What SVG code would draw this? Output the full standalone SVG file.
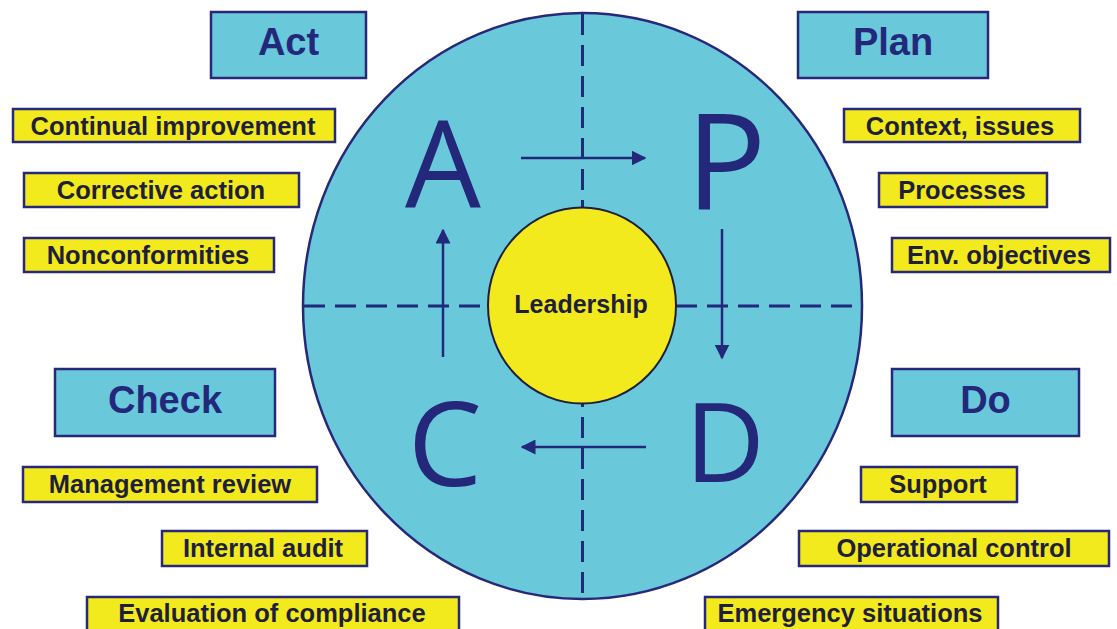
<svg xmlns="http://www.w3.org/2000/svg" width="1117" height="629" viewBox="0 0 1117 629">
<style>
.hdr{fill:#69C9DA;stroke:#27287A;stroke-width:2.5}
.hdt{font-family:"Liberation Sans",Arial,sans-serif;font-weight:bold;font-size:38px;fill:#23287A;text-anchor:middle}
.lab{fill:#F2EA1C;stroke:#27287A;stroke-width:2.5}
.lbt{font-family:"Liberation Sans",Arial,sans-serif;font-weight:bold;font-size:25.5px;fill:#1F1F3A;text-anchor:middle}
.big{font-family:"Open Sans","DejaVu Sans",sans-serif;font-weight:500;fill:#23287A;text-anchor:middle}
.dash{stroke:#23287A;stroke-width:3;stroke-dasharray:21 10;fill:none}
.arr{stroke:#23287A;stroke-width:2.5;fill:none;marker-end:url(#ah)}
</style>
<defs>
<marker id="ah" viewBox="0 0 10 10" refX="9" refY="5" markerWidth="6" markerHeight="6" orient="auto" markerUnits="strokeWidth">
<path d="M0,0 L10,5 L0,10 z" fill="#23287A"/>
</marker>
</defs>
<rect width="1117" height="629" fill="#FFFFFF"/>
<g id="cycle">
<ellipse cx="582.5" cy="306" rx="279.5" ry="293" fill="#69C9DA" stroke="#27287A" stroke-width="2.5"/>
<line class="dash" x1="304" y1="306" x2="861" y2="306"/>
<line class="dash" x1="582.5" y1="14" x2="582.5" y2="598"/>
<text class="big" x="443" y="207" font-size="120">A</text>
<text class="big" x="726" y="210" font-size="134">P</text>
<text class="big" x="445" y="486" font-size="118">C</text>
<text class="big" x="725" y="482" font-size="110">D</text>
</g>
<g id="leadership">
<ellipse cx="582" cy="305.5" rx="94" ry="98" fill="#F2EA1C" stroke="#1F1F3A" stroke-width="2"/>
<text x="581" y="313" font-family="'Liberation Sans',Arial,sans-serif" font-weight="bold" font-size="25" fill="#1F1F3A" text-anchor="middle">Leadership</text>
</g>
<g id="connectors">
<line class="arr" x1="521" y1="158" x2="645" y2="158"/>
<line class="arr" x1="722" y1="229" x2="722" y2="358"/>
<line class="arr" x1="646" y1="447" x2="522" y2="447"/>
<line class="arr" x1="443" y1="357" x2="443" y2="230"/>
</g>
<g id="act"><rect class="hdr" x="211" y="12" width="155" height="66"/><text class="hdt" x="288.5" y="55">Act</text></g>
<g id="plan"><rect class="hdr" x="798" y="12" width="190" height="66"/><text class="hdt" x="893" y="55">Plan</text></g>
<g id="check"><rect class="hdr" x="55" y="369" width="220" height="67"/><text class="hdt" x="165" y="413">Check</text></g>
<g id="do"><rect class="hdr" x="892" y="369" width="187" height="67"/><text class="hdt" x="985.5" y="413">Do</text></g>
<g id="continual-improvement"><rect class="lab" x="13" y="109" width="322" height="33"/><text class="lbt" x="173" y="135">Continual improvement</text></g>
<g id="corrective-action"><rect class="lab" x="24" y="173" width="275" height="34"/><text class="lbt" x="161" y="199">Corrective action</text></g>
<g id="nonconformities"><rect class="lab" x="24" y="238" width="250" height="34"/><text class="lbt" x="148" y="264">Nonconformities</text></g>
<g id="context-issues"><rect class="lab" x="844" y="109" width="236" height="33"/><text class="lbt" x="960" y="135">Context, issues</text></g>
<g id="processes"><rect class="lab" x="879" y="173" width="168" height="34"/><text class="lbt" x="962" y="199">Processes</text></g>
<g id="env-objectives"><rect class="lab" x="892" y="238" width="218" height="34"/><text class="lbt" x="999" y="264">Env. objectives</text></g>
<g id="management-review"><rect class="lab" x="23" y="467" width="294" height="35"/><text class="lbt" x="170" y="493">Management review</text></g>
<g id="internal-audit"><rect class="lab" x="162" y="531" width="205" height="35"/><text class="lbt" x="263" y="557">Internal audit</text></g>
<g id="evaluation-of-compliance"><rect class="lab" x="87" y="597" width="372" height="35"/><text class="lbt" x="272" y="622">Evaluation of compliance</text></g>
<g id="support"><rect class="lab" x="861" y="467" width="156" height="35"/><text class="lbt" x="938" y="493">Support</text></g>
<g id="operational-control"><rect class="lab" x="799" y="531" width="310" height="35"/><text class="lbt" x="954" y="557">Operational control</text></g>
<g id="emergency-situations"><rect class="lab" x="705" y="597" width="293" height="35"/><text class="lbt" x="850" y="622">Emergency situations</text></g>
</svg>
